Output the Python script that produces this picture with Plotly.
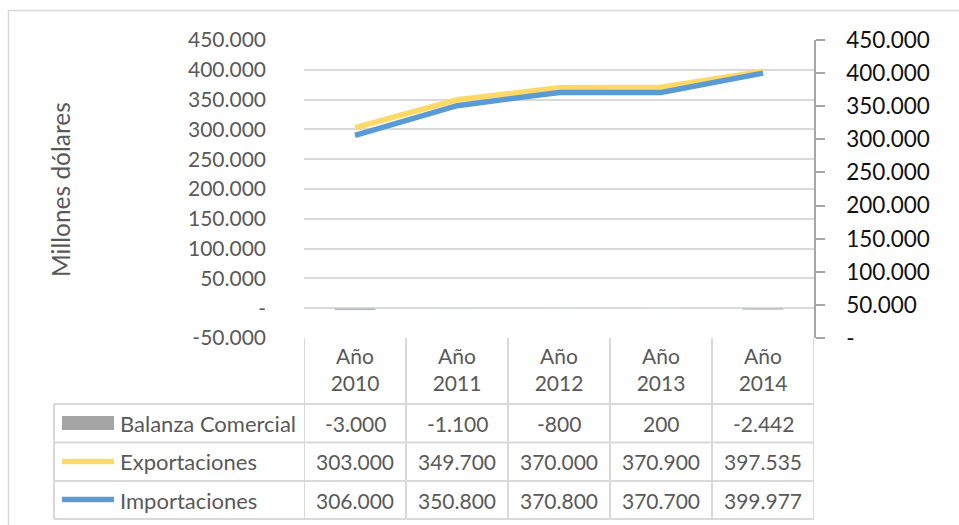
import plotly.graph_objects as go

# Datos (millones de dólares)
categorias = ["Año 2010", "Año 2011", "Año 2012", "Año 2013", "Año 2014"]
balanza = [-3000, -1100, -800, 200, -2442]
exportaciones = [303000, 349700, 370000, 370900, 397535]
importaciones = [306000, 350800, 370800, 370700, 399977]

nombres = ["Balanza Comercial", "Exportaciones", "Importaciones"]
ticks_izq = list(range(-50000, 450001, 50000))
ticks_der = list(range(0, 450001, 50000))

C_GRIS = "#A5A5A5"
C_AMARILLO = "#FFD966"
C_AZUL = "#5B9BD5"
C_TEXTO = "#595959"
C_LINEA = "#D9D9D9"
FUENTE = "Lato"

W, H = 959, 525


def fmt(v):
    """Formato con punto como separador de miles y guion para cero."""
    if v == 0:
        return "-"
    s = f"{abs(v):,}".replace(",", ".")
    return ("-" if v < 0 else "") + s


def py(p):
    """Convierte una coordenada vertical en píxeles a fracción del papel."""
    return 1 - p / H


def px(p):
    return p / W


fig = go.Figure()

fig.add_trace(go.Bar(
    x=categorias, y=balanza, name=nombres[0], marker_color=C_GRIS,
    width=0.4, yaxis="y", showlegend=False,
))
fig.add_trace(go.Scatter(
    x=categorias, y=exportaciones, name=nombres[1], mode="lines",
    line=dict(color=C_AMARILLO, width=5.5), yaxis="y", showlegend=False,
))
fig.add_trace(go.Scatter(
    x=categorias, y=importaciones, name=nombres[2], mode="lines",
    line=dict(color=C_AZUL, width=5.5), yaxis="y2", showlegend=False,
))

fig.update_layout(
    width=W, height=H,
    margin=dict(l=0, r=0, t=0, b=0, autoexpand=False),
    paper_bgcolor="white", plot_bgcolor="white",
    font=dict(family=FUENTE, color=C_TEXTO),
    showlegend=False,
    xaxis=dict(
        domain=[px(304), px(814)], automargin=False,
        type="category", range=[-0.5, 4.5],
        tickvals=categorias,
        ticktext=[c.replace(" ", "<br>") for c in categorias],
        tickfont=dict(size=21, color=C_TEXTO),
        ticks="", showgrid=False, zeroline=False, showline=False,
        ticklabelstandoff=4,
    ),
    yaxis=dict(
        domain=[py(338), py(40)], automargin=False,
        range=[-50000, 450000],
        tickvals=ticks_izq, ticktext=[fmt(v) for v in ticks_izq],
        tickfont=dict(size=21, color=C_TEXTO),
        showgrid=True, gridcolor=C_LINEA, gridwidth=1.5,
        zeroline=False, showline=False, ticks="",
        ticklabelstandoff=37,
    ),
    yaxis2=dict(
        overlaying="y", side="right", anchor="x", automargin=False,
        range=[0, 450000],
        tickvals=ticks_der, ticktext=[fmt(v) for v in ticks_der],
        tickfont=dict(size=22.5, color="#111111"),
        showgrid=False, zeroline=False,
        showline=True, linecolor="#A6A6A6", linewidth=1.5,
        ticks="outside", ticklen=9, tickcolor="#A6A6A6", tickwidth=1.5,
        ticklabelstandoff=17,
    ),
    bargap=0.6,
)

shapes = []
# Marco exterior del gráfico
shapes.append(dict(type="rect", xref="paper", yref="paper",
                   x0=px(8.5), x1=px(975), y0=py(540), y1=py(10.5),
                   line=dict(color=C_LINEA, width=1.5)))

# Tabla de datos
filas_y = [404, 442.5, 481, 519]
for yy in filas_y:
    shapes.append(dict(type="line", xref="paper", yref="paper",
                       x0=px(54), x1=px(814), y0=py(yy), y1=py(yy),
                       line=dict(color=C_LINEA, width=2)))
shapes.append(dict(type="line", xref="paper", yref="paper",
                   x0=px(54), x1=px(54), y0=py(404), y1=py(519),
                   line=dict(color=C_LINEA, width=2)))
for i in range(len(categorias) + 1):
    shapes.append(dict(type="line", xref="x", yref="paper",
                       x0=i - 0.5, x1=i - 0.5, y0=py(338), y1=py(519),
                       line=dict(color=C_LINEA, width=2)))

# Claves de leyenda dentro de la tabla
shapes.append(dict(type="rect", xref="paper", yref="paper",
                   x0=px(62), x1=px(114), y0=py(430), y1=py(416),
                   fillcolor=C_GRIS, line=dict(width=0)))
shapes.append(dict(type="line", xref="paper", yref="paper",
                   x0=px(62), x1=px(114), y0=py(461.5), y1=py(461.5),
                   line=dict(color=C_AMARILLO, width=5.5)))
shapes.append(dict(type="line", xref="paper", yref="paper",
                   x0=px(62), x1=px(114), y0=py(499.5), y1=py(499.5),
                   line=dict(color=C_AZUL, width=5.5)))

annotations = []
centros = [423, 461.5, 500]
series = [balanza, exportaciones, importaciones]
for nombre, valores, yc in zip(nombres, series, centros):
    annotations.append(dict(
        xref="paper", yref="paper", x=px(118), y=py(yc),
        text=nombre, showarrow=False, xanchor="left", yanchor="middle",
        font=dict(size=22, color=C_TEXTO, family=FUENTE),
    ))
    for cat, v in zip(categorias, valores):
        annotations.append(dict(
            xref="x", yref="paper", x=cat, y=py(yc),
            text=fmt(v), showarrow=False, xanchor="center", yanchor="middle",
            font=dict(size=21, color=C_TEXTO, family=FUENTE),
        ))

# Título del eje vertical
annotations.append(dict(
    xref="paper", yref="paper", x=px(60), y=py(190),
    text="Millones dólares", textangle=-90, showarrow=False,
    xanchor="center", yanchor="middle",
    font=dict(size=24.5, color=C_TEXTO, family=FUENTE),
))

fig.update_layout(shapes=shapes, annotations=annotations)

fig.write_html("out.html")
